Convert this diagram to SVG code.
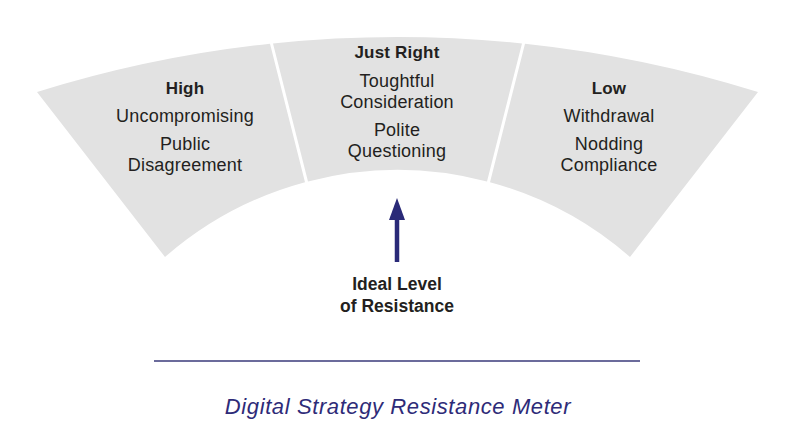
<svg xmlns="http://www.w3.org/2000/svg" width="794" height="448" viewBox="0 0 794 448">
<style>
.seg{fill:#e2e2e2;}
.t{font-family:"Liberation Sans",Arial,sans-serif;font-size:18px;letter-spacing:0.2px;fill:#231f20;text-anchor:middle;}
.b{font-weight:bold;font-size:17px;letter-spacing:0.2px;}
.lbl{font-family:"Liberation Sans",Arial,sans-serif;font-size:17.5px;font-weight:bold;letter-spacing:0px;fill:#231f20;text-anchor:middle;}
.title{font-family:"Liberation Sans",Arial,sans-serif;font-size:22px;font-style:italic;letter-spacing:0.6px;fill:#2e2b78;text-anchor:middle;}
</style>
<g id="high">
<path class="seg" d="M37,92 A1209,1209 0 0 1 270,43.7 L305,182.2 A352.8,352.8 0 0 0 165,257 Z"/>
<text class="t b" x="185" y="94">High</text>
<text class="t" x="185" y="122">Uncompromising</text>
<text class="t" x="185" y="149.5">Public</text>
<text class="t" x="185" y="170.5">Disagreement</text>
</g>
<g id="just-right">
<path class="seg" d="M273,43.4 A1209,1209 0 0 1 522,43.4 L487,181.4 A352.8,352.8 0 0 0 308,181.4 Z"/>
<text class="t b" x="397" y="58">Just Right</text>
<text class="t" x="397" y="86.5">Toughtful</text>
<text class="t" x="397" y="107.5">Consideration</text>
<text class="t" x="397" y="135.5">Polite</text>
<text class="t" x="397" y="156.5">Questioning</text>
</g>
<g id="low">
<path class="seg" d="M525,43.7 A1209,1209 0 0 1 758,92 L630,257 A352.8,352.8 0 0 0 490,182.2 Z"/>
<text class="t b" x="609" y="94">Low</text>
<text class="t" x="609" y="122">Withdrawal</text>
<text class="t" x="609" y="149.5">Nodding</text>
<text class="t" x="609" y="170.5">Compliance</text>
</g>
<g id="connectors">
<path d="M397,262 L397,210" stroke="#2a2a78" stroke-width="4.5" fill="none"/>
<path d="M389,220 L397,198 L405,220 Z" fill="#2a2a78"/>
</g>
<g id="ideal">
<text class="lbl" x="397" y="290">Ideal Level</text>
<text class="lbl" x="397" y="312">of Resistance</text>
</g>
<g id="footer">
<line x1="154" y1="361" x2="640" y2="361" stroke="#3a3a7a" stroke-width="1.5"/>
<text class="title" x="398" y="414">Digital Strategy Resistance Meter</text>
</g>
</svg>
